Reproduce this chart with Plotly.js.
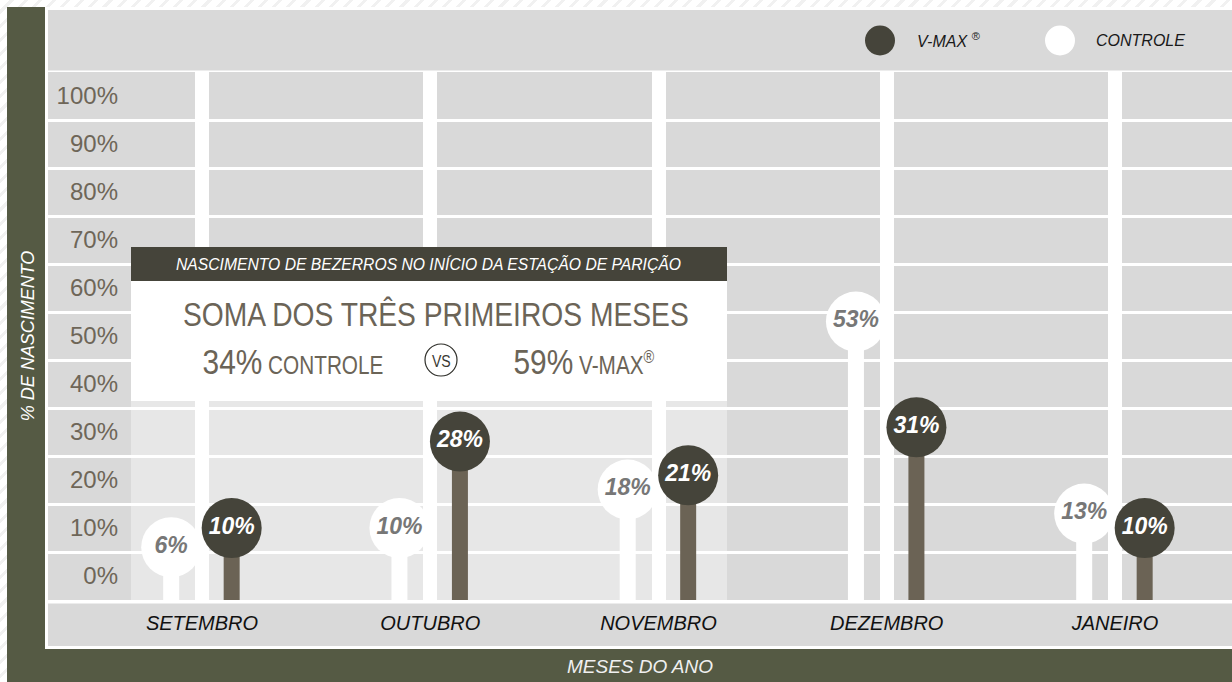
<!DOCTYPE html>
<html>
<head>
<meta charset="utf-8">
<script src="https://cdn.plot.ly/plotly-3.0.1.min.js"></script>
<style>
  html, body { margin: 0; padding: 0; }
  body {
    width: 1232px; height: 682px; overflow: hidden;
    background: repeating-linear-gradient(135deg, #ffffff 0px, #ffffff 7px, #f1f1f1 7px, #f1f1f1 10px);
  }
  #chart { width: 1232px; height: 682px; }
  /* condensed look for the summary box texts */
  #chart g.annotation[data-index="3"] text,
  #chart g.annotation[data-index="4"] text,
  #chart g.annotation[data-index="5"] text,
  #chart g.annotation[data-index="6"] text {
    transform-box: fill-box; transform-origin: 50% 50%; transform: scaleX(0.83);
  }
</style>
</head>
<body>
<div id="chart"></div>
<script>
// ---------- DATA ----------
const months = ['SETEMBRO', 'OUTUBRO', 'NOVEMBRO', 'DEZEMBRO', 'JANEIRO'];
const controle = [6, 10, 18, 53, 13];
const vmax = [10, 28, 21, 31, 10];
const seriesNames = ['V-MAX', 'CONTROLE'];
const yTickVals = [0, 10, 20, 30, 40, 50, 60, 70, 80, 90, 100];
const yTickText = ['0%', '10%', '20%', '30%', '40%', '50%', '60%', '70%', '80%', '90%', '100%'];
const yTitle = '% DE NASCIMENTO';
const xTitle = 'MESES DO ANO';
const boxHeader = 'NASCIMENTO DE BEZERROS NO INÍCIO DA ESTAÇÃO DE PARIÇÃO';
const boxTitle = 'SOMA DOS TRÊS PRIMEIROS MESES';
const firstMonths = 3;

// ---------- STYLE ----------
const SANS = '"Liberation Sans", Arial, sans-serif';
const GREEN = '#555a44';
const GRAY = '#d9d9d9';
const DARK = '#45443a';
const STEM = '#6b6355';
const BROWN = '#6b6457';
const BASE = -5;           // bottom of the value axis
const OFF_C = -0.135, OFF_V = 0.13;

// pixel helpers for decorative layout (plot area 48..1232 x 72..600)
const L = 48, R = 1232, T = 72, B = 600;
const px = x => (x - L) / (R - L);
const py = y => (B - y) / (B - T);

const idx = months.map((m, i) => i);
const sum = a => a.slice(0, firstMonths).reduce((s, v) => s + v, 0);

function stems(vals, off) {
  const x = [], y = [];
  vals.forEach((v, i) => { x.push(i + off, i + off, null); y.push(BASE, v, null); });
  return { x, y };
}
const sc = stems(controle, OFF_C);
const sv = stems(vmax, OFF_V);

const traces = [
  { type: 'scatter', mode: 'lines', x: sc.x, y: sc.y, line: { color: '#ffffff', width: 16 }, hoverinfo: 'skip', showlegend: false },
  { type: 'scatter', mode: 'lines', x: sv.x, y: sv.y, line: { color: STEM, width: 16 }, hoverinfo: 'skip', showlegend: false },
  { type: 'scatter', mode: 'markers+text', name: seriesNames[1],
    x: idx.map(i => i + OFF_C), y: controle, text: controle.map(v => v + '%'),
    textposition: 'middle center', cliponaxis: false,
    marker: { size: 60, color: '#ffffff', line: { width: 0 } },
    textfont: { family: SANS, size: 23, color: '#777777', weight: 'bold', style: 'italic' },
    hoverinfo: 'skip', showlegend: false },
  { type: 'scatter', mode: 'markers+text', name: seriesNames[0],
    x: idx.map(i => i + OFF_V), y: vmax, text: vmax.map(v => v + '%'),
    textposition: 'middle center', cliponaxis: false,
    marker: { size: 60, color: DARK, line: { width: 0 } },
    textfont: { family: SANS, size: 23, color: '#ffffff', weight: 'bold', style: 'italic' },
    hoverinfo: 'skip', showlegend: false }
];

const rect = (x0, y0, x1, y1, color, layer) => ({
  type: 'rect', xref: 'paper', yref: 'paper', x0: px(x0), x1: px(x1), y0: py(y1), y1: py(y0),
  fillcolor: color, line: { width: 0 }, layer: layer || 'below'
});
const circ = (cx, cy, r, fill, lineColor, lw) => ({
  type: 'circle', xref: 'paper', yref: 'paper', x0: px(cx - r), x1: px(cx + r), y0: py(cy + r), y1: py(cy - r),
  fillcolor: fill, line: { color: lineColor || fill, width: lw || 0 }, layer: 'above'
});

const shapes = [
  rect(7, 7, 1232, 682, GREEN),
  rect(45, 7, 1232, 649, '#ffffff'),
  rect(48, 10, 1232, 70.5, GRAY),
  rect(48, 72, 1232, 600, GRAY),
  rect(48, 603.5, 1232, 646, GRAY),
  rect(131, 401, 727, 600, 'rgba(255,255,255,0.36)'),
  // summary box
  rect(131, 247, 727, 281, DARK, 'above'),
  rect(131, 281, 727, 401, '#ffffff', 'above'),
  circ(441, 360, 16, '#ffffff', '#2f2f2a', 1.2),
  // legend markers
  circ(880, 40.5, 15, DARK),
  circ(1060, 40.5, 15, '#ffffff')
];

const ann = (x, y, text, font, xanchor) => ({
  xref: 'paper', yref: 'paper', x: px(x), y: py(y), text, showarrow: false,
  xanchor: xanchor || 'center', yanchor: 'middle', font
});

const annotations = [
  ann(915, 40, seriesNames[0] + ' <sup>®</sup>', { family: SANS, size: 16, color: '#1a1a1a', style: 'italic' }, 'left'),
  ann(1094, 40, seriesNames[1], { family: SANS, size: 16, color: '#1a1a1a', style: 'italic' }, 'left'),
  ann(429, 264, boxHeader, { family: SANS, size: 15.7, color: '#ffffff', style: 'italic' }),
  ann(435.5, 314, boxTitle, { family: SANS, size: 34, color: BROWN }),
  ann(293, 361, sum(controle) + '%<span style="font-size:25px"> ' + seriesNames[1] + '</span>',
      { family: SANS, size: 36, color: BROWN }),
  ann(441, 361, 'VS', { family: SANS, size: 17, color: '#3a3a34' }),
  ann(584, 361, sum(vmax) + '%<span style="font-size:25px"> ' + seriesNames[0] + '<sup>®</sup></span>',
      { family: SANS, size: 36, color: BROWN })
];

const layout = {
  width: 1232, height: 682,
  margin: { l: L, r: 1232 - R, t: T, b: 682 - B, pad: 0 },
  paper_bgcolor: 'rgba(0,0,0,0)',
  plot_bgcolor: 'rgba(0,0,0,0)',
  showlegend: false,
  xaxis: {
    range: [-0.6747, 4.5126], tickmode: 'array', tickvals: idx, ticktext: months,
    showgrid: true, gridcolor: '#ffffff', gridwidth: 14, zeroline: false, showline: false, ticks: '',
    tickfont: { family: SANS, size: 20, color: '#111111', style: 'italic' },
    ticklabelstandoff: 9,
    title: { text: xTitle, font: { family: SANS, size: 19, color: '#f0f0f0', style: 'italic' }, standoff: 26 },
    fixedrange: true
  },
  yaxis: {
    range: [BASE, 105], tickmode: 'array', tickvals: yTickVals, ticktext: yTickText,
    anchor: 'free', position: px(118), side: 'left',
    showgrid: false, zeroline: false, showline: false, ticks: '',
    minor: { tick0: 5, dtick: 10, showgrid: true, gridcolor: '#ffffff', gridwidth: 3, ticks: '' },
    tickfont: { family: SANS, size: 24, color: '#6e6658' },
    title: { text: yTitle, font: { family: SANS, size: 18, color: '#ffffff', style: 'italic' }, standoff: 16 },
    fixedrange: true
  },
  shapes, annotations
};

Plotly.newPlot('chart', traces, layout, { displayModeBar: false, staticPlot: true });
</script>
</body>
</html>
